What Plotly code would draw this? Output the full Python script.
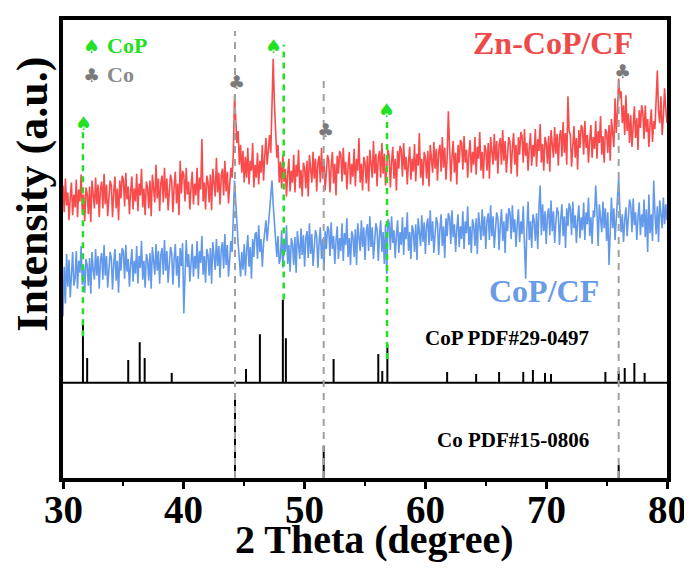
import numpy as np
import plotly.graph_objects as go

# ---------------- data (2-theta scan, 0.1 deg step from 30 to 80) ----------------
zn_cop_cf = [
    297, 270, 304, 277, 290, 262, 285, 300, 267, 288,   # 30
    275, 303, 265, 293, 281, 308, 269, 288, 261, 295,   # 31
    289, 268, 296, 260, 302, 284, 274, 305, 278, 298,   # 32
    265, 294, 301, 274, 309, 278, 298, 266, 287, 302,   # 33
    297, 265, 291, 306, 274, 294, 262, 302, 284, 307,   # 34
    303, 276, 310, 283, 296, 268, 291, 306, 273, 294,   # 35
    281, 309, 271, 299, 287, 314, 275, 294, 267, 301,   # 36
    295, 274, 302, 266, 308, 290, 280, 318, 284, 304,   # 37
    271, 300, 307, 280, 315, 284, 304, 272, 293, 308,   # 38
    302, 270, 296, 311, 279, 299, 267, 322, 289, 312,   # 39
    308, 281, 315, 288, 301, 273, 296, 311, 278, 299,   # 40
    287, 315, 277, 305, 293, 344, 281, 300, 273, 307,   # 41
    301, 280, 308, 272, 314, 296, 286, 325, 290, 310,   # 42
    278, 307, 314, 287, 322, 291, 311, 279, 300, 315,   # 43
    305, 330, 388, 365, 340, 352, 318, 338, 310, 332,   # 44
    300, 326, 305, 335, 298, 322, 312, 340, 295, 318,   # 45
    305, 330, 298, 322, 310, 338, 302, 326, 345, 318,   # 46
    335, 348, 330, 372, 425, 380, 350, 325, 338, 300,   # 47
    321, 294, 328, 301, 314, 286, 309, 324, 291, 312,   # 48
    300, 328, 290, 318, 306, 333, 294, 313, 286, 320,   # 49
    315, 294, 322, 286, 328, 310, 300, 331, 304, 324,   # 50
    291, 320, 327, 300, 335, 304, 324, 292, 313, 328,   # 51
    322, 290, 316, 331, 299, 319, 287, 327, 309, 332,   # 52
    328, 301, 335, 308, 321, 293, 316, 331, 298, 319,   # 53
    306, 334, 296, 324, 312, 345, 300, 319, 292, 326,   # 54
    320, 299, 327, 291, 333, 315, 305, 342, 309, 329,   # 55
    296, 325, 332, 305, 340, 309, 329, 297, 318, 333,   # 56
    327, 295, 321, 336, 304, 324, 292, 332, 314, 337,   # 57
    333, 306, 340, 313, 326, 298, 321, 336, 303, 324,   # 58
    311, 339, 301, 329, 317, 350, 305, 324, 297, 331,   # 59
    325, 304, 332, 296, 338, 320, 310, 341, 314, 334,   # 60
    302, 331, 338, 311, 346, 315, 335, 303, 324, 372,   # 61
    333, 301, 327, 342, 310, 330, 298, 338, 320, 343,   # 62
    340, 313, 347, 320, 333, 305, 328, 343, 310, 331,   # 63
    318, 346, 308, 336, 324, 351, 312, 331, 304, 338,   # 64
    333, 312, 340, 304, 346, 328, 318, 349, 322, 342,   # 65
    309, 338, 345, 318, 353, 322, 342, 310, 331, 346,   # 66
    341, 309, 335, 350, 318, 338, 306, 346, 328, 351,   # 67
    347, 320, 354, 327, 340, 312, 335, 350, 317, 338,   # 68
    326, 354, 316, 344, 332, 359, 320, 339, 312, 346,   # 69
    340, 319, 347, 311, 353, 335, 325, 356, 329, 349,   # 70
    317, 346, 353, 326, 361, 330, 350, 318, 387, 352,   # 71
    348, 316, 342, 357, 325, 345, 313, 353, 335, 358,   # 72
    355, 328, 362, 335, 348, 320, 343, 358, 325, 346,   # 73
    334, 362, 324, 352, 340, 367, 328, 347, 320, 354,   # 74
    351, 330, 358, 322, 364, 346, 336, 385, 350, 372,   # 75
    405, 385, 392, 360, 378, 348, 388, 352, 370, 340,   # 76
    368, 336, 362, 377, 345, 365, 333, 373, 355, 378,   # 77
    371, 344, 378, 351, 364, 336, 359, 374, 341, 362,   # 78
    354, 382, 413, 372, 360, 387, 348, 367, 395, 374,   # 79
    360,                                                # 80
]

cop_cf = [
    165, 215, 178, 228, 195, 222, 184, 213, 230, 196,   # 30
    203, 231, 193, 221, 209, 236, 197, 216, 189, 223,   # 31
    217, 196, 224, 188, 230, 212, 202, 233, 206, 226,   # 32
    193, 222, 229, 202, 237, 206, 226, 194, 215, 230,   # 33
    224, 192, 218, 233, 201, 221, 189, 229, 211, 234,   # 34
    230, 203, 237, 210, 223, 195, 218, 233, 200, 221,   # 35
    208, 236, 198, 226, 214, 241, 202, 221, 194, 228,   # 36
    222, 201, 229, 193, 235, 217, 207, 238, 211, 231,   # 37
    198, 227, 234, 207, 242, 211, 231, 199, 220, 235,   # 38
    229, 197, 223, 238, 206, 226, 194, 234, 216, 239,   # 39
    168, 208, 242, 215, 228, 200, 223, 238, 205, 226,   # 40
    213, 241, 203, 231, 219, 246, 207, 226, 199, 233,   # 41
    227, 206, 234, 198, 240, 222, 212, 243, 216, 236,   # 42
    204, 233, 240, 213, 248, 217, 237, 205, 226, 241,   # 43
    230, 262, 302, 280, 255, 238, 222, 205, 230, 212,   # 44
    238, 206, 232, 247, 215, 235, 203, 243, 225, 248,   # 45
    250, 223, 257, 230, 243, 215, 238, 253, 262, 241,   # 46
    255, 270, 285, 302, 278, 262, 240, 225, 246, 218,   # 47
    224, 252, 214, 242, 230, 257, 218, 237, 210, 244,   # 48
    238, 217, 245, 209, 251, 233, 223, 254, 227, 247,   # 49
    215, 244, 251, 224, 259, 228, 248, 216, 237, 252,   # 50
    246, 214, 240, 255, 223, 243, 211, 251, 233, 256,   # 51
    253, 226, 260, 233, 246, 218, 241, 256, 223, 244,   # 52
    231, 259, 221, 249, 237, 264, 225, 244, 217, 251,   # 53
    246, 225, 253, 217, 259, 241, 231, 262, 235, 255,   # 54
    222, 251, 258, 231, 266, 235, 255, 223, 244, 259,   # 55
    253, 221, 247, 262, 230, 250, 218, 258, 208, 263,   # 56
    259, 232, 266, 239, 252, 224, 247, 262, 229, 250,   # 57
    237, 265, 227, 255, 243, 270, 231, 250, 223, 257,   # 58
    251, 230, 258, 222, 264, 246, 236, 267, 240, 260,   # 59
    228, 257, 264, 237, 272, 241, 261, 229, 250, 265,   # 60
    259, 227, 253, 268, 236, 256, 224, 264, 246, 269,   # 61
    265, 238, 272, 245, 258, 230, 253, 268, 235, 256,   # 62
    243, 271, 233, 261, 249, 276, 237, 256, 229, 263,   # 63
    257, 236, 264, 228, 270, 252, 242, 273, 246, 266,   # 64
    233, 262, 269, 242, 277, 246, 266, 234, 255, 270,   # 65
    264, 232, 258, 273, 241, 261, 229, 269, 251, 274,   # 66
    270, 243, 277, 250, 263, 235, 258, 273, 240, 261,   # 67
    248, 276, 238, 203, 254, 281, 242, 261, 234, 268,   # 68
    262, 241, 269, 233, 275, 297, 247, 278, 251, 271,   # 69
    238, 267, 274, 247, 282, 251, 271, 239, 260, 275,   # 70
    269, 237, 263, 278, 246, 266, 234, 274, 256, 279,   # 71
    274, 247, 281, 254, 267, 239, 262, 277, 244, 265,   # 72
    252, 280, 242, 270, 258, 285, 246, 265, 238, 272,   # 73
    265, 297, 272, 236, 278, 260, 250, 281, 254, 274,   # 74
    241, 270, 217, 250, 285, 254, 274, 242, 263, 278,   # 75
    305, 272, 250, 268, 240, 262, 275, 246, 266, 283,   # 76
    277, 250, 284, 257, 270, 242, 265, 280, 247, 268,   # 77
    255, 283, 245, 273, 230, 288, 249, 268, 241, 302,   # 78
    269, 248, 276, 240, 282, 264, 254, 285, 258, 278,   # 79
    262,                                                # 80
]

assert len(zn_cop_cf) == 501 and len(cop_cf) == 501
theta = np.linspace(30, 80, 501)  # measurement grid

tick_vals = [30, 40, 50, 60, 70, 80]
minor_vals = [35, 45, 55, 65, 75]

# CoP PDF#29-0497 reference pattern
cop_pdf_pos = [31.65, 32.0, 35.4, 36.35, 36.76, 39.0, 45.15, 46.3, 48.2, 48.45,
               52.4, 56.1, 56.43, 56.85, 61.8, 64.2, 66.1, 68.1, 68.9, 69.9,
               70.4, 74.9, 76.0, 76.5, 77.3, 78.15]
cop_pdf_int = [63, 25, 23, 41, 25, 10, 14, 49, 84, 45,
               24, 29, 12, 39, 11, 9, 11, 11, 13, 10,
               9, 11, 12, 15, 20, 10]
cop_pdf_base = 98

# Co PDF#15-0806 reference pattern
co_pdf_pos = [44.24, 51.58, 76.0]
co_pdf_int = [80, 32, 13]
co_pdf_base = 2

# marker lines: (position, top, bottom)
cop_lines = [(31.65, 355, 145), (48.27, 439, 182), (56.82, 363, 122)]
co_lines = [(44.24, 453, 2), (51.58, 406, 2), (76.0, 408, 2)]
cop_symbols = [(31.66, 360), (47.44, 438), (56.82, 373)]
co_symbols = [(44.4, 401), (51.77, 353), (76.33, 413)]

RED = "#F94B4B"
BLUE = "#6399EB"
GREEN = "#22E022"
FONT = "Liberation Serif"


def sticks(pos, ints, base):
    xs, ys = [], []
    for p, h in zip(pos, ints):
        xs += [p, p, None]
        ys += [base, base + h, None]
    return xs, ys


fig = go.Figure()
fig.add_trace(go.Scatter(x=theta, y=zn_cop_cf, mode="lines",
                         line=dict(color=RED, width=1.6), showlegend=False))
fig.add_trace(go.Scatter(x=theta, y=cop_cf, mode="lines",
                         line=dict(color=BLUE, width=1.6), showlegend=False))

# CoP baseline
fig.add_trace(go.Scatter(x=[30, 80], y=[cop_pdf_base, cop_pdf_base], mode="lines",
                         line=dict(color="black", width=2), showlegend=False))
sx, sy = sticks(cop_pdf_pos, cop_pdf_int, cop_pdf_base)
fig.add_trace(go.Scatter(x=sx, y=sy, mode="lines",
                         line=dict(color="black", width=2), showlegend=False))
sx, sy = sticks(co_pdf_pos, co_pdf_int, co_pdf_base)
fig.add_trace(go.Scatter(x=sx, y=sy, mode="lines",
                         line=dict(color="black", width=2), showlegend=False))

shapes = []
for p, top, bot in cop_lines:
    shapes.append(dict(type="line", x0=p, x1=p, y0=bot, y1=top, xref="x", yref="y",
                       line=dict(color=GREEN, width=2.5, dash="6px,5px"), layer="above"))
for p, top, bot in co_lines:
    shapes.append(dict(type="line", x0=p, x1=p, y0=bot, y1=top, xref="x", yref="y",
                       line=dict(color="#A0A0A0", width=2, dash="7px,6px"), layer="above"))

ann = []
for x, y in cop_symbols:
    ann.append(dict(x=x, y=y, text="♠", showarrow=False,
                    font=dict(family="DejaVu Sans", size=19, color=GREEN)))
for x, y in co_symbols:
    ann.append(dict(x=x, y=y, text="♣", showarrow=False,
                    font=dict(family="DejaVu Sans", size=19, color="#7A7A7A")))

# legend-like labels
ann.append(dict(x=32.4, y=438, text="♠", showarrow=False,
                font=dict(family="DejaVu Sans", size=19, color=GREEN)))
ann.append(dict(x=33.5, y=438, text="<b>CoP</b>", showarrow=False, xanchor="left",
                font=dict(family=FONT, size=22, color=GREEN)))
ann.append(dict(x=32.4, y=409, text="♣", showarrow=False,
                font=dict(family="DejaVu Sans", size=19, color="#7A7A7A")))
ann.append(dict(x=33.5, y=409, text="<b>Co</b>", showarrow=False, xanchor="left",
                font=dict(family=FONT, size=22, color="#8A8A8A")))

ann.append(dict(x=70.56, y=441, text="<b>Zn-CoP/CF</b>", showarrow=False,
                font=dict(family=FONT, size=32, color="#EE4A4A")))
ann.append(dict(x=69.8, y=191, text="<b>CoP/CF</b>", showarrow=False,
                font=dict(family=FONT, size=32, color="#6A9BE6")))
ann.append(dict(x=66.75, y=143, text="<b>CoP PDF#29-0497</b>", showarrow=False,
                font=dict(family=FONT, size=21, color="black")))
ann.append(dict(x=67.25, y=40, text="<b>Co PDF#15-0806</b>", showarrow=False,
                font=dict(family=FONT, size=21, color="black")))

# x tick labels, placed on the x scale just below the axis
for v in tick_vals:
    ann.append(dict(x=v, y=-0.0693, xref="x", yref="paper",
                    xanchor="center", yanchor="middle",
                    text="<b>%d</b>" % v, showarrow=False,
                    font=dict(family=FONT, size=39, color="black")))

# axis titles
ann.append(dict(x=0.515, y=-0.135, xref="paper", yref="paper",
                xanchor="center", yanchor="middle",
                text="<b>2 Theta (degree)</b>", showarrow=False,
                font=dict(family=FONT, size=40, color="black")))
ann.append(dict(x=-0.051, y=0.619, xref="paper", yref="paper", textangle=-90,
                xanchor="center", yanchor="middle",
                text="<b>Intensity (a.u.)</b>", showarrow=False,
                font=dict(family=FONT, size=44, color="black")))

# page body adds an 8px offset; size the figure to fit the 692x572 window
fig.update_layout(
    width=684, height=564,
    margin=dict(l=55, r=25, t=8, b=94),
    plot_bgcolor="white", paper_bgcolor="white",
    shapes=shapes, annotations=ann,
    xaxis=dict(range=[30, 80], showgrid=False, zeroline=False,
               showline=True, linecolor="black", linewidth=4, mirror=True,
               ticks="outside", ticklen=7, tickwidth=3, tickcolor="black",
               tickvals=tick_vals, showticklabels=False,
               minor=dict(tickvals=minor_vals, ticks="outside", ticklen=4,
                          tickwidth=2, tickcolor="black")),
    yaxis=dict(range=[2, 464], showgrid=False, zeroline=False,
               showline=True, linecolor="black", linewidth=4, mirror=True,
               ticks="", showticklabels=False),
)

fig.write_html("out.html")
